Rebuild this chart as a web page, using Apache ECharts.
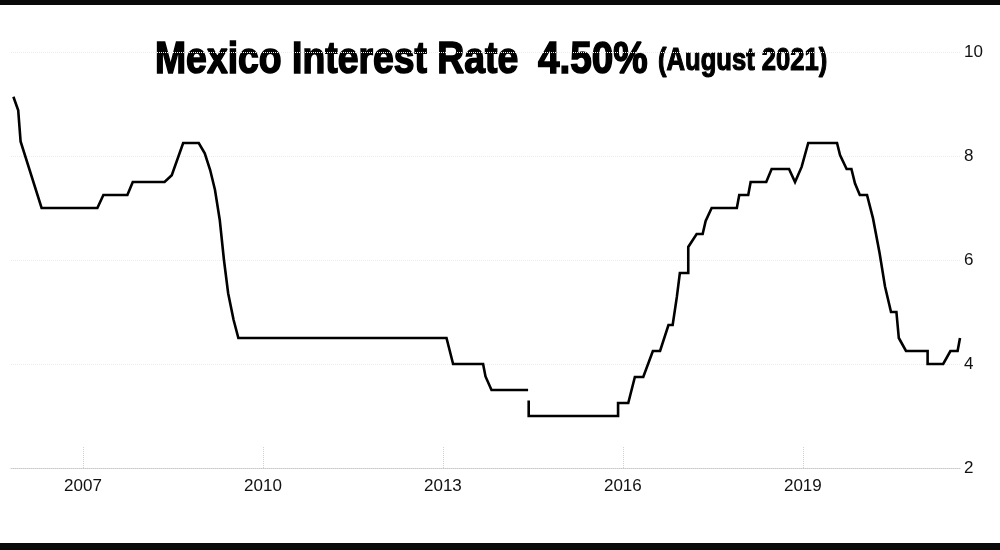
<!DOCTYPE html>
<html>
<head>
<meta charset="utf-8">
<script src="https://cdn.jsdelivr.net/npm/echarts@6/dist/echarts.min.js"></script>
<style>
  html, body { margin: 0; padding: 0; background: #fff; }
  #chart { width: 1000px; height: 550px; }
</style>
</head>
<body>
<div id="chart"></div>
<script>
// Decimal year of each point, and the rate (%) at that point (null = gap in the line)
const years = [
  2005.84, 2005.92, 2005.96, 2006.31, 2007.24, 2007.34, 2007.74, 2007.83, 2008.36, 2008.48,
  2008.67, 2008.93, 2009.03, 2009.12, 2009.20, 2009.28, 2009.35, 2009.42, 2009.51, 2009.59,
  2013.06, 2013.17, 2013.67, 2013.71, 2013.81, 2014.42, 2014.425, 2014.43, 2014.43, 2015.92,
  2015.92, 2016.09, 2016.20, 2016.34, 2016.50, 2016.62, 2016.76, 2016.83, 2016.90, 2016.95,
  2017.09, 2017.09, 2017.23, 2017.33, 2017.38, 2017.48, 2017.90, 2017.94, 2018.09, 2018.13,
  2018.39, 2018.48, 2018.77, 2018.87, 2018.98, 2019.09, 2019.57, 2019.62, 2019.73, 2019.81,
  2019.87, 2019.95, 2020.07, 2020.17, 2020.28, 2020.37, 2020.47, 2020.56, 2020.60, 2020.72,
  2021.08, 2021.08, 2021.34, 2021.46, 2021.58, 2021.62
];
const rates = [
  9.14, 8.88, 8.28, 7.00, 7.00, 7.25, 7.25, 7.50, 7.50, 7.63,
  8.25, 8.25, 8.05, 7.73, 7.35, 6.77, 6.00, 5.36, 4.85, 4.50,
  4.50, 4.00, 4.00, 3.76, 3.50, 3.50, null, 3.30, 3.00, 3.00,
  3.25, 3.25, 3.75, 3.75, 4.25, 4.25, 4.75, 4.75, 5.29, 5.75,
  5.75, 6.25, 6.50, 6.50, 6.75, 7.00, 7.00, 7.25, 7.25, 7.50,
  7.50, 7.75, 7.75, 7.50, 7.79, 8.25, 8.25, 8.02, 7.75, 7.75,
  7.47, 7.25, 7.25, 6.80, 6.13, 5.49, 5.00, 5.00, 4.50, 4.25,
  4.25, 4.00, 4.00, 4.25, 4.25, 4.50
];
const xTickYears = [2007, 2010, 2013, 2016, 2019];
const yTicks = [2, 4, 6, 8, 10];
const titleMain = 'Mexico Interest Rate';
const titleValue = '4.50%';
const titleSub = '(August 2021)';

const seriesData = years.map((t, i) => [t, rates[i] === null ? '-' : rates[i]]);
const LAB_FONT = '"Liberation Sans", Arial, sans-serif';
const TITLE_FONT = '"Liberation Sans", Arial, sans-serif';

const chart = echarts.init(document.getElementById('chart'), null, { renderer: 'canvas' });
chart.setOption({
  backgroundColor: '#ffffff',
  animation: false,
  grid: { left: 11, right: 40, top: 52, bottom: 82, containLabel: false },
  xAxis: {
    type: 'value',
    min: 2005.8,
    max: 2021.62,
    axisLine: { show: true, lineStyle: { color: '#c8c8c8', type: 'dotted', width: 1 } },
    axisTick: { show: true, inside: true, length: 22, customValues: xTickYears,
      lineStyle: { color: '#d0d0d0', type: 'dotted', width: 1 } },
    axisLabel: { show: true, customValues: xTickYears, margin: 10,
      color: '#111', fontFamily: LAB_FONT, fontSize: 17,
      formatter: v => String(Math.round(v)) },
    splitLine: { show: false }
  },
  yAxis: {
    type: 'value',
    position: 'right',
    min: yTicks[0], max: yTicks[yTicks.length - 1], interval: 2,
    axisLine: { show: false },
    axisTick: { show: false },
    axisLabel: { margin: 4, color: '#111', fontFamily: LAB_FONT, fontSize: 17 },
    splitLine: { show: true, lineStyle: { color: '#ececec', type: 'dotted', width: 1 } }
  },
  series: [{
    type: 'line',
    data: seriesData,
    showSymbol: false,
    connectNulls: false,
    lineStyle: { color: '#000', width: 2.6, join: 'miter' },
    itemStyle: { color: '#000' }
  }],
  graphic: [
    { type: 'rect', shape: { x: 0, y: 0, width: 1000, height: 5 }, style: { fill: '#0a0a0a' }, silent: true },
    { type: 'rect', shape: { x: 0, y: 543, width: 1000, height: 7 }, style: { fill: '#0a0a0a' }, silent: true },
    { type: 'text', x: 155, y: 38, scaleX: 0.83, silent: true,
      style: { text: titleMain, font: 'bold 45px ' + TITLE_FONT, fill: '#000',
        stroke: '#000', lineWidth: 1.6, align: 'left', verticalAlign: 'top' } },
    { type: 'text', x: 538, y: 38, scaleX: 0.86, silent: true,
      style: { text: titleValue, font: 'bold 45px ' + TITLE_FONT, fill: '#000',
        stroke: '#000', lineWidth: 1.6, align: 'left', verticalAlign: 'top' } },
    { type: 'text', x: 658, y: 45, scaleX: 0.8, silent: true,
      style: { text: titleSub, font: 'bold 32px ' + TITLE_FONT, fill: '#000',
        stroke: '#000', lineWidth: 1.2, align: 'left', verticalAlign: 'top' } }
  ]
});
</script>
</body>
</html>
